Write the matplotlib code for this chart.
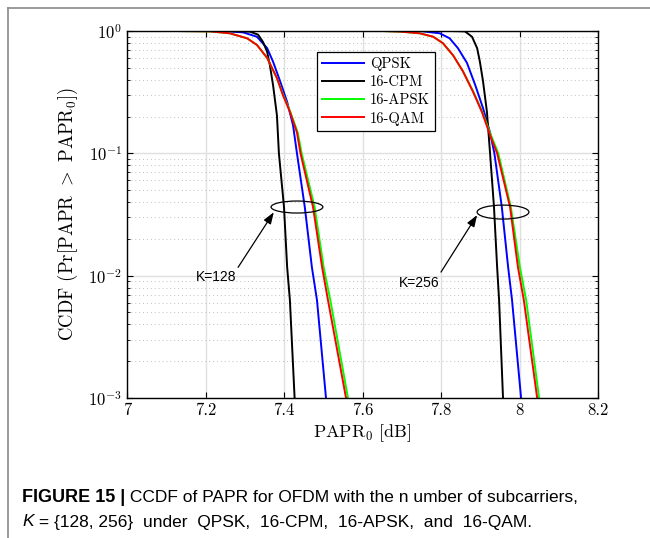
import numpy as np
import matplotlib
matplotlib.use("Agg")
from matplotlib import pyplot as plt
from matplotlib.patches import Ellipse
from matplotlib.lines import Line2D
from matplotlib.ticker import LogLocator, NullFormatter

plt.rcParams['font.family'] = 'serif'
plt.rcParams['font.serif'] = ['cmr10']
plt.rcParams['mathtext.fontset'] = 'cm'
plt.rcParams['axes.formatter.use_mathtext'] = True

# CCDF curves (x in dB, y as log10 of probability)
# K = 128
qpsk128_x = [7.12, 7.237, 7.2955, 7.331, 7.357, 7.372, 7.390, 7.408, 7.423, 7.433, 7.453, 7.471, 7.484, 7.507]
qpsk128_l = [0, 0, -0.011, -0.047, -0.14, -0.25, -0.41, -0.58, -0.77, -1.0, -1.44, -1.93, -2.2, -3.0]
cpm128_x = [7.12, 7.262, 7.313, 7.334, 7.3465, 7.357, 7.364, 7.372, 7.382, 7.387, 7.400, 7.408, 7.415, 7.427]
cpm128_l = [0, 0, -0.005, -0.03, -0.09, -0.17, -0.28, -0.44, -0.69, -1.0, -1.44, -1.93, -2.2, -3.0]
apsk128_x = [7.12, 7.2115, 7.262, 7.306, 7.331, 7.357, 7.382, 7.398, 7.416, 7.435, 7.445, 7.478, 7.501, 7.518, 7.563]
apsk128_l = [0, -0.003, -0.019, -0.06, -0.114, -0.22, -0.385, -0.523, -0.66, -0.83, -1.0, -1.44, -1.93, -2.2, -3.0]
qam128_x = [7.12, 7.2115, 7.262, 7.306, 7.331, 7.357, 7.382, 7.397, 7.415, 7.433, 7.442, 7.474, 7.497, 7.512, 7.558]
qam128_l = [0, -0.003, -0.019, -0.06, -0.114, -0.22, -0.385, -0.523, -0.66, -0.83, -1.0, -1.44, -1.93, -2.2, -3.0]
# K = 256
qpsk256_x = [7.65, 7.746, 7.797, 7.822, 7.843, 7.866, 7.887, 7.907, 7.925, 7.936, 7.955, 7.971, 7.981, 8.004]
qpsk256_l = [0, 0, -0.019, -0.06, -0.14, -0.26, -0.44, -0.63, -0.83, -1.0, -1.44, -1.93, -2.2, -3.0]
cpm256_x = [7.65, 7.823, 7.861, 7.879, 7.892, 7.899, 7.907, 7.917, 7.925, 7.935, 7.943, 7.948, 7.958]
cpm256_l = [0, 0, -0.003, -0.047, -0.14, -0.25, -0.41, -0.66, -1.0, -1.44, -1.93, -2.2, -3.0]
apsk256_x = [7.65, 7.696, 7.746, 7.78, 7.805, 7.831, 7.856, 7.883, 7.905, 7.927, 7.946, 7.978, 8.001, 8.017, 8.050]
apsk256_l = [0, -0.005, -0.019, -0.047, -0.1, -0.2, -0.33, -0.5, -0.66, -0.85, -1.0, -1.44, -1.93, -2.2, -3.0]
qam256_x = [7.65, 7.696, 7.746, 7.78, 7.805, 7.831, 7.856, 7.882, 7.904, 7.925, 7.943, 7.976, 7.996, 8.011, 8.045]
qam256_l = [0, -0.005, -0.019, -0.047, -0.1, -0.2, -0.33, -0.5, -0.66, -0.85, -1.0, -1.44, -1.93, -2.2, -3.0]

xticks = [7, 7.2, 7.4, 7.6, 7.8, 8, 8.2]
xtick_labels = ['7', '7.2', '7.4', '7.6', '7.8', '8', '8.2']
labels = ['QPSK', '16-CPM', '16-APSK', '16-QAM']

# annotation anchors (data units)
ell128 = (7.433, 0.0364)
ell256 = (7.958, 0.0331)
arrow128 = [(7.283, 0.0117), (7.374, 0.033)]
arrow256 = [(7.800, 0.0107), (7.892, 0.0313)]
text128 = (7.176, 0.0097)
text256 = (7.693, 0.0087)

fig = plt.figure(figsize=(6.5, 5.38), dpi=100)
ax = fig.add_axes([0.1954, 0.2602, 0.7246, 0.6822])

lw = 1.4
for xs, ls, c in [(qpsk128_x, qpsk128_l, 'b'), (qpsk256_x, qpsk256_l, 'b'),
                  (cpm128_x, cpm128_l, 'k'), (cpm256_x, cpm256_l, 'k'),
                  (apsk128_x, apsk128_l, '#00ff00'), (apsk256_x, apsk256_l, '#00ff00'),
                  (qam128_x, qam128_l, 'r'), (qam256_x, qam256_l, 'r')]:
    ax.semilogy(xs, 10.0 ** np.array(ls), color=c, lw=lw)

ax.set_xlim(7, 8.2)
ax.set_ylim(1e-3, 1)
ax.set_xticks(xticks)
ax.set_xticklabels(xtick_labels)
ax.yaxis.set_minor_locator(LogLocator(base=10, subs=np.arange(2, 10)))
ax.yaxis.set_minor_formatter(NullFormatter())
ax.tick_params(which='both', direction='in', top=True, right=True, labelsize=12)
ax.tick_params(which='major', length=4)
ax.tick_params(which='minor', length=2)
ax.grid(True, which='major', color='#e0e0e0', lw=1, ls='-')
ax.grid(True, which='minor', axis='y', color='#c0c0c0', lw=0.7, ls=(0, (1, 3)))
ax.set_axisbelow(True)
for s in ax.spines.values():
    s.set_linewidth(1.0)

ax.set_xlabel(r'PAPR$_0$ [dB]', fontsize=13, labelpad=3)
ax.set_ylabel(r'CCDF (Pr[PAPR $>$ PAPR$_0$])', fontsize=13.5, labelpad=6)

handles = [Line2D([], [], color=c, lw=lw) for c in ['b', 'k', '#00ff00', 'r']]
leg = ax.legend(handles, labels, loc='upper left',
                bbox_to_anchor=(0.403, 0.943), borderaxespad=0, fancybox=False,
                edgecolor='k', framealpha=1, fontsize=10.5, handlelength=2.9,
                handletextpad=0.4, labelspacing=0.3, borderpad=0.35)
leg.get_frame().set_linewidth(0.9)

to_axes = ax.transData + ax.transAxes.inverted()
for c, h in [(ell128, 0.0327), (ell256, 0.038)]:
    cx, cy = to_axes.transform(c)
    ax.add_patch(Ellipse((cx, cy), 0.110, h, transform=ax.transAxes,
                         fill=False, ec='k', lw=0.9, zorder=5))
for tail, head in [arrow128, arrow256]:
    ax.annotate('', xy=head, xytext=tail,
                arrowprops=dict(arrowstyle='-|>,head_length=0.7,head_width=0.25',
                                color='k', lw=0.9, shrinkA=0, shrinkB=0))
ax.text(text128[0], text128[1], 'K=128', family='Liberation Sans', fontsize=10, va='center', ha='left')
ax.text(text256[0], text256[1], 'K=256', family='Liberation Sans', fontsize=10, va='center', ha='left')

# figure frame (left and top edges visible)
fig.add_artist(Line2D([8 / 650, 8 / 650], [0, 1 - 8 / 538], color='#8a8a8a', lw=1.2))
fig.add_artist(Line2D([8 / 650, 1], [1 - 8 / 538, 1 - 8 / 538], color='#8a8a8a', lw=1.2))

cap = dict(family='Liberation Sans', va='center')
t1 = fig.text(22 / 650, 1 - 497 / 538, 'FIGURE 15 |', weight='bold', fontsize=13, **cap)
ax.annotate(' CCDF of PAPR for OFDM with the n umber of subcarriers,', xy=(1, 0.5),
            xycoords=t1, annotation_clip=False, fontsize=12.5, **cap)
t2 = fig.text(22 / 650, 1 - 522 / 538, 'K', style='italic', fontsize=12.5, **cap)
ax.annotate(' = {128, 256}  under  QPSK,  16-CPM,  16-APSK,  and  16-QAM.', xy=(1, 0.5),
            xycoords=t2, annotation_clip=False, fontsize=12.5, **cap)

fig.savefig('out.png', dpi=100)
